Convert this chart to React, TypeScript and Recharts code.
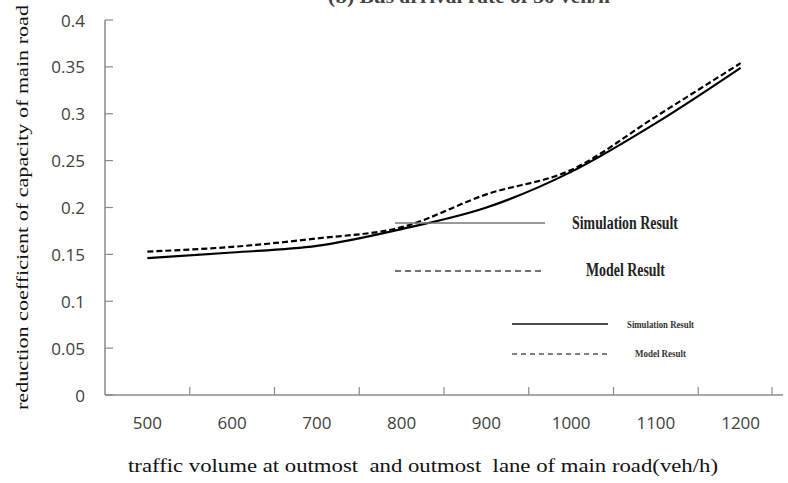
import { LineChart, Line, XAxis, YAxis, Label } from 'recharts';

const volumes = [500, 600, 700, 800, 900, 1000, 1100, 1200];
const simulation = [0.146, 0.152, 0.159, 0.177, 0.2, 0.238, 0.29, 0.349];
const model = [0.153, 0.158, 0.167, 0.179, 0.214, 0.24, 0.297, 0.354];
const yTicks = [0, 0.05, 0.1, 0.15, 0.2, 0.25, 0.3, 0.35, 0.4];
const boundaryTicks = [550, 650, 750, 850, 950, 1050, 1150, 1250];

const SIM_NAME = 'Simulation Result';
const MODEL_NAME = 'Model Result';
const Y_TITLE = 'reduction coefficient of capacity of main road';
const X_TITLE = 'traffic volume at outmost  and outmost  lane of main road(veh/h)';
const CHART_TITLE = '(b) Bus arrival rate of 30 veh/h';

const serif = '"Liberation Serif", "Times New Roman", serif';
const sans = '"Open Sans", sans-serif';
const axisGray = '#8a8a8a';

function YTick({ x, y, payload }: any) {
  return (
    <g>
      <text x={x} y={y} textAnchor="end" dominantBaseline="central"
        fontFamily={sans} fontSize={17} fill="#404040">
        {payload.value}
      </text>
      <line x1={x + 20} x2={x + 28} y1={y} y2={y} stroke={axisGray} strokeWidth={1.2} />
    </g>
  );
}

function MarkTick({ x, y }: any) {
  return <line x1={x} x2={x} y1={y - 8} y2={y} stroke={axisGray} strokeWidth={1.2} />;
}

function YTitle({ viewBox }: any) {
  const cy = viewBox.y + viewBox.height / 2;
  return (
    <text
      x={22}
      y={cy}
      transform={`rotate(-90, 22, ${cy})`}
      textAnchor="middle"
      dominantBaseline="central"
      fontFamily={serif}
      fontSize={17.5}
      fill="#111"
      textLength={405}
      lengthAdjust="spacingAndGlyphs"
    >
      {Y_TITLE}
    </text>
  );
}

function XTitle() {
  return (
    <text
      x={423}
      y={472}
      textAnchor="middle"
      fontFamily={serif}
      fontSize={18}
      fill="#111"
      style={{ whiteSpace: 'pre' }}
      textLength={590}
      lengthAdjust="spacingAndGlyphs"
    >
      {X_TITLE}
    </text>
  );
}

function LegendOverlay() {
  return (
    <svg
      width={788}
      height={483}
      style={{ position: 'absolute', left: 0, top: 0, pointerEvents: 'none' }}
    >
      <text
        x={328}
        y={3}
        fontFamily={serif}
        fontWeight="bold"
        fontSize={18}
        fill="#444"
        textLength={282}
        lengthAdjust="spacingAndGlyphs"
      >
        {CHART_TITLE}
      </text>
      {/* large legend */}
      <line x1={395} x2={545} y1={223} y2={223} stroke="#777" strokeWidth={1.5} />
      <text x={572} y={223} dominantBaseline="central" fontFamily={serif} fontWeight="bold"
        fontSize={18} fill="#222" textLength={106} lengthAdjust="spacingAndGlyphs">
        {SIM_NAME}
      </text>
      <line x1={395} x2={545} y1={271} y2={271} stroke="#444" strokeWidth={1.3} strokeDasharray="6 4" />
      <text x={586} y={270} dominantBaseline="central" fontFamily={serif} fontWeight="bold"
        fontSize={18} fill="#222" textLength={79} lengthAdjust="spacingAndGlyphs">
        {MODEL_NAME}
      </text>
      {/* small legend */}
      <line x1={512} x2={608} y1={324} y2={324} stroke="#111" strokeWidth={1.5} />
      <text x={627} y={324} dominantBaseline="central" fontFamily={serif} fontWeight="bold"
        fontSize={11} fill="#333" textLength={67} lengthAdjust="spacingAndGlyphs">
        {SIM_NAME}
      </text>
      <line x1={512} x2={607} y1={354} y2={354} stroke="#555" strokeWidth={1.5} strokeDasharray="5 4" />
      <text x={635} y={353} dominantBaseline="central" fontFamily={serif} fontWeight="bold"
        fontSize={11} fill="#333" textLength={51} lengthAdjust="spacingAndGlyphs">
        {MODEL_NAME}
      </text>
    </svg>
  );
}

export default function App() {
  const data = volumes.map((v, i) => ({
    volume: v,
    simulation: simulation[i],
    model: model[i],
  }));

  return (
    <div style={{ position: 'absolute', left: 0, top: 0, width: 788, height: 483, background: '#fff' }}>
      <LineChart width={788} height={483} data={data} margin={{ top: 20, right: 5, bottom: 0, left: 0 }}>
        <XAxis
          xAxisId="labels"
          type="number"
          dataKey="volume"
          domain={[450, 1250]}
          ticks={volumes}
          tickLine={false}
          axisLine={false}
          tickSize={0}
          tickMargin={21}
          height={87}
          tick={{ fontSize: 17, fill: '#404040', fontFamily: sans }}
        >
          <Label content={<XTitle />} />
        </XAxis>
        <XAxis
          xAxisId="axis"
          type="number"
          dataKey="volume"
          domain={[450, 1250]}
          ticks={boundaryTicks}
          tick={<MarkTick />}
          tickLine={false}
          tickSize={0}
          tickMargin={0}
          height={1}
          axisLine={{ stroke: axisGray, strokeWidth: 1.5 }}
        />
        <YAxis
          type="number"
          domain={[0, 0.4]}
          ticks={yTicks}
          width={105}
          tickLine={false}
          tickSize={0}
          tickMargin={20}
          axisLine={{ stroke: axisGray, strokeWidth: 1.5 }}
          tick={<YTick />}
        >
          <Label content={(props: any) => <YTitle {...props} />} />
        </YAxis>
        <Line
          xAxisId="labels"
          type="monotone"
          dataKey="simulation"
          name={SIM_NAME}
          stroke="#000"
          strokeWidth={2.2}
          dot={false}
          isAnimationActive={false}
        />
        <Line
          xAxisId="labels"
          type="monotone"
          dataKey="model"
          name={MODEL_NAME}
          stroke="#000"
          strokeWidth={2.2}
          strokeDasharray="6 3"
          dot={false}
          isAnimationActive={false}
        />
      </LineChart>
      <LegendOverlay />
    </div>
  );
}
